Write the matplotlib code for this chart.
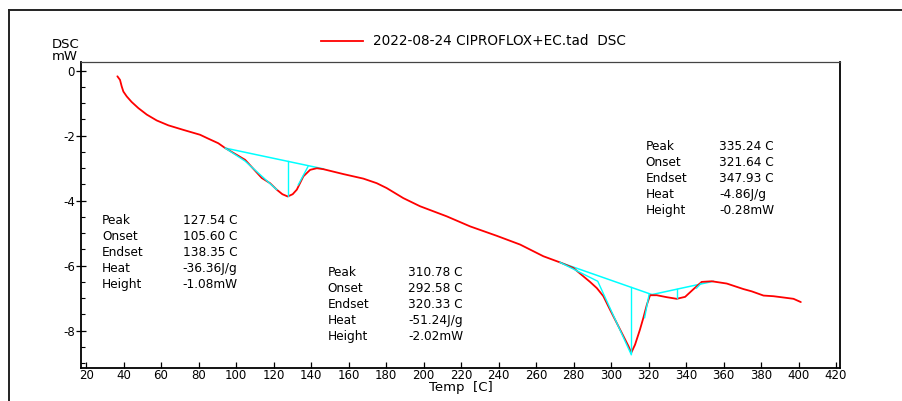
import numpy as np
import matplotlib
matplotlib.use("Agg")
from matplotlib import pyplot as plt
from matplotlib.lines import Line2D
from matplotlib.ticker import MultipleLocator

# DSC trace (temperature in C, heat flow in mW)
temp = [36.7, 38.1, 39.0, 39.9, 41.7, 44.3, 47.9, 52.4, 57.7, 63.9, 71.9, 80.8,
        85.2, 90.5, 94.2, 104.8, 113.7, 118.1, 121.7, 124.7, 127.54, 130.2, 132.4,
        135.9, 139.5, 143.1, 146.6, 157.2, 167.9, 175.0, 180.3, 189.2, 198.1, 212.3,
        224.8, 239.0, 251.5, 263.9, 272.8, 279.9, 288.8, 292.4, 295.9, 299.4, 303.0,
        306.6, 309.3, 310.78, 312.8, 315.4, 317.2, 319.1, 320.8, 324.4, 329.7, 335.0,
        339.5, 344.0, 348.3, 353.7, 361.7, 370.6, 375.0, 381.3, 386.6, 392.0, 397.3,
        401.2]
dsc = [-0.17, -0.28, -0.48, -0.64, -0.79, -0.96, -1.15, -1.35, -1.53, -1.68, -1.82, -1.97,
       -2.09, -2.23, -2.38, -2.74, -3.30, -3.46, -3.66, -3.80, -3.87, -3.80, -3.66,
       -3.25, -3.05, -3.00, -3.03, -3.18, -3.32, -3.46, -3.61, -3.92, -4.17, -4.48,
       -4.79, -5.08, -5.35, -5.71, -5.90, -6.07, -6.50, -6.69, -6.94, -7.35, -7.76,
       -8.17, -8.48, -8.68, -8.43, -7.97, -7.61, -7.20, -6.91, -6.91, -6.97, -7.02,
       -6.96, -6.72, -6.50, -6.48, -6.55, -6.72, -6.79, -6.92, -6.94, -6.98, -7.02,
       -7.12]

# peak evaluation results
peaks = [
    {"Peak": 127.54, "Onset": 105.60, "Endset": 138.35, "Heat": -36.36, "Height": -1.08},
    {"Peak": 310.78, "Onset": 292.58, "Endset": 320.33, "Heat": -51.24, "Height": -2.02},
    {"Peak": 335.24, "Onset": 321.64, "Endset": 347.93, "Heat": -4.86, "Height": -0.28},
]
# baseline end points for each peak
baselines = [((94.2, -2.38), (146.6, -3.02)),
             ((272.8, -5.90), (321.8, -6.89)),
             ((321.8, -6.89), (354.6, -6.48))]
# tangent construction lines
tangents = [
    [(94.2, -2.38), (104.8, -2.78), (121.7, -3.66)],
    [(133.2, -3.51), (138.35, -2.95)],
    [(272.8, -5.90), (292.9, -6.48), (310.78, -8.74)],
    [(317.9, -7.60), (320.33, -6.87)],
    [(345.6, -6.69), (347.93, -6.55)],
]
# where each result block is written (label x, value x, first row y)
block_pos = [(28.5, 71.5, -4.62), (148.8, 191.7, -6.22), (318.5, 357.8, -2.34)]

W, H = 903, 401
plt.rcParams['font.family'] = ['DejaVu Sans']
plt.rcParams['axes.unicode_minus'] = False
fig = plt.figure(figsize=(W / 100, H / 100), dpi=100)

ax_l, ax_r, ax_t, ax_b = 81, 840, 62, 368
ax = fig.add_axes([ax_l / W, 1 - ax_b / H, (ax_r - ax_l) / W, (ax_b - ax_t) / H])

ax.plot(temp, dsc, color='#ff0000', lw=1.3, zorder=3,
        solid_joinstyle='round', solid_capstyle='round')

cyan = '#00ffff'
for pk, (p0, p1) in zip(peaks, baselines):
    ax.plot([p0[0], p1[0]], [p0[1], p1[1]], color=cyan, lw=1.1, zorder=2)
    frac = (pk["Peak"] - p0[0]) / (p1[0] - p0[0])
    y_base = p0[1] + frac * (p1[1] - p0[1])
    ax.plot([pk["Peak"], pk["Peak"]], [y_base, y_base + pk["Height"]],
            color=cyan, lw=1.0, zorder=4)
for seg in tangents:
    xs, ys = zip(*seg)
    ax.plot(xs, ys, color=cyan, lw=1.0, zorder=4)

ax.set_xlim(17.3, 422.1)
ax.set_ylim(-9.15, 0.27)
ax.set_xticks(np.arange(20, 421, 20))
ax.yaxis.set_major_locator(MultipleLocator(2))
ax.yaxis.set_minor_locator(MultipleLocator(0.5))
ax.tick_params(axis='x', direction='in', length=4, width=0.9, labelsize=8.5, pad=1)
ax.tick_params(axis='y', which='major', direction='inout', length=7, width=0.9,
               labelsize=8.5, pad=1)
ax.tick_params(axis='y', which='minor', direction='in', length=3, width=0.8)
for side in ['left', 'bottom', 'right']:
    ax.spines[side].set_linewidth(1.3)
ax.spines['top'].set_linewidth(0.9)
ax.spines['top'].set_color('#444444')
ax.set_xlabel('Temp  [C]', fontsize=9.5, labelpad=-1)

# result blocks
units = {"Peak": "C", "Onset": "C", "Endset": "C", "Heat": "J/g", "Height": "mW"}
for pk, (xl, xv, y0) in zip(peaks, block_pos):
    for i, key in enumerate(["Peak", "Onset", "Endset", "Heat", "Height"]):
        y = y0 - i * 0.49
        sep = " " if units[key] == "C" else ""
        ax.text(xl, y, key, fontsize=8.7, va='center', ha='left')
        ax.text(xv, y, f"{pk[key]:.2f}{sep}{units[key]}", fontsize=8.7,
                va='center', ha='left')

# axis unit labels
fig.text(52 / W, 1 - 44 / H, 'DSC', fontsize=9.5, va='center', ha='left')
fig.text(52 / W, 1 - 56 / H, 'mW', fontsize=9.5, va='center', ha='left')

# legend entry
fig.add_artist(Line2D([321 / W, 363 / W], [1 - 41 / H, 1 - 41 / H],
                      color='#ff0000', lw=1.3))
fig.text(373 / W, 1 - 41 / H, '2022-08-24 CIPROFLOX+EC.tad  DSC', fontsize=9.8,
         va='center', ha='left')

# outer frame
fig.add_artist(Line2D([9 / W, 9 / W], [-0.02, 1 - 10 / H], color='#222222', lw=1.4))
fig.add_artist(Line2D([9 / W, 1.02], [1 - 10 / H, 1 - 10 / H], color='#222222', lw=1.4))

fig.savefig('out.png', dpi=100)
